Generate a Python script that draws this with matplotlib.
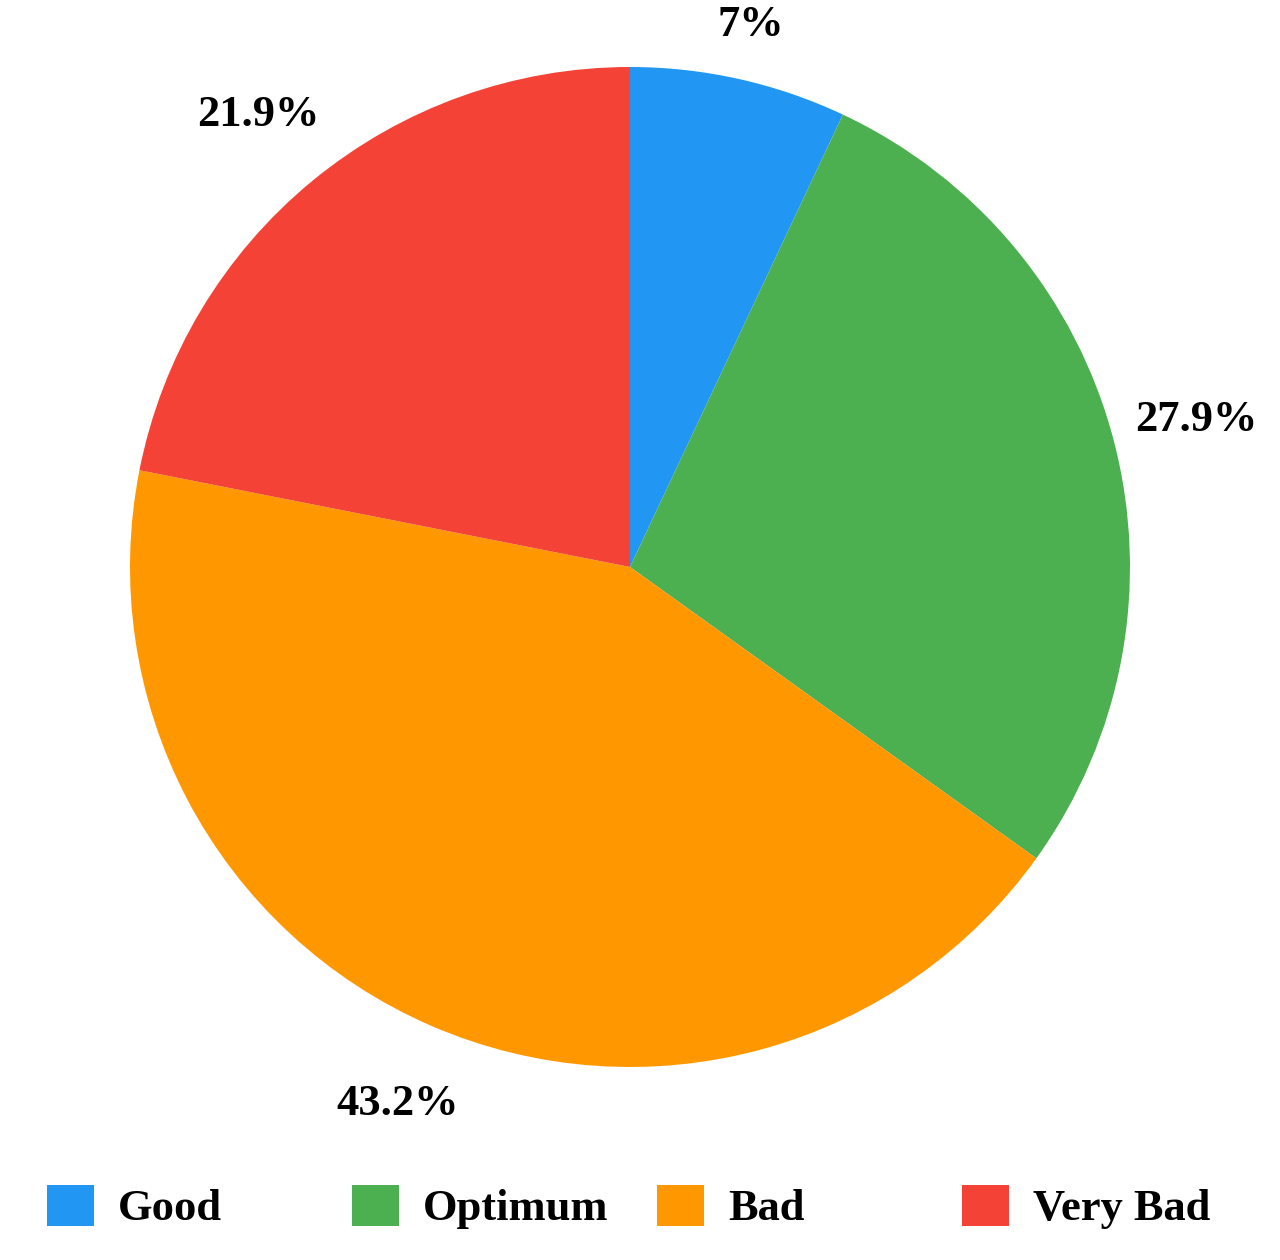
import matplotlib.pyplot as plt
from matplotlib.patches import Patch

labels = ['Good', 'Optimum', 'Bad', 'Very Bad']
values = [7.0, 27.9, 43.2, 21.9]
colors = ['#2196F3', '#4CAF50', '#FF9800', '#F44336']

plt.rcParams['font.family'] = ['Liberation Serif', 'DejaVu Serif']
plt.rcParams['font.weight'] = 'bold'


def fmt(p):
    s = ('%.1f' % p).rstrip('0').rstrip('.')
    return s + '%'


fig = plt.figure(figsize=(12.8, 12.6), dpi=100)
ax = fig.add_axes([130/1280, 193/1260, 1000/1280, 1000/1260])
wedges, texts = ax.pie(values, colors=colors, startangle=90, counterclock=False,
                       radius=1, wedgeprops=dict(linewidth=0))
ax.set_xlim(-1, 1)
ax.set_ylim(-1, 1)

# percent labels outside the pie
import numpy as np
tot = sum(values)
ang = 90.0
for v in values:
    mid = ang - v / tot * 360 / 2
    ang = ang - v / tot * 360
    r = 1.17 if abs(np.sin(np.radians(mid))) < 0.95 else 1.11
    ax.text(r * np.cos(np.radians(mid)), r * np.sin(np.radians(mid)), fmt(v / tot * 100),
            ha='center', va='center', fontsize=32, fontweight='bold')

# legend, evenly spaced items
for i, (lab, col) in enumerate(zip(labels, colors)):
    fig.legend(handles=[Patch(facecolor=col, edgecolor='none')], labels=[lab],
               loc='center left', bbox_to_anchor=((47 + 305 * i) / 1280, 53 / 1260),
               frameon=False, borderpad=0, borderaxespad=0, handlelength=1.05,
               handleheight=1.05, handletextpad=0.55,
               prop=dict(family='Liberation Serif', weight='bold', size=32))

fig.savefig('out.png', dpi=100)
